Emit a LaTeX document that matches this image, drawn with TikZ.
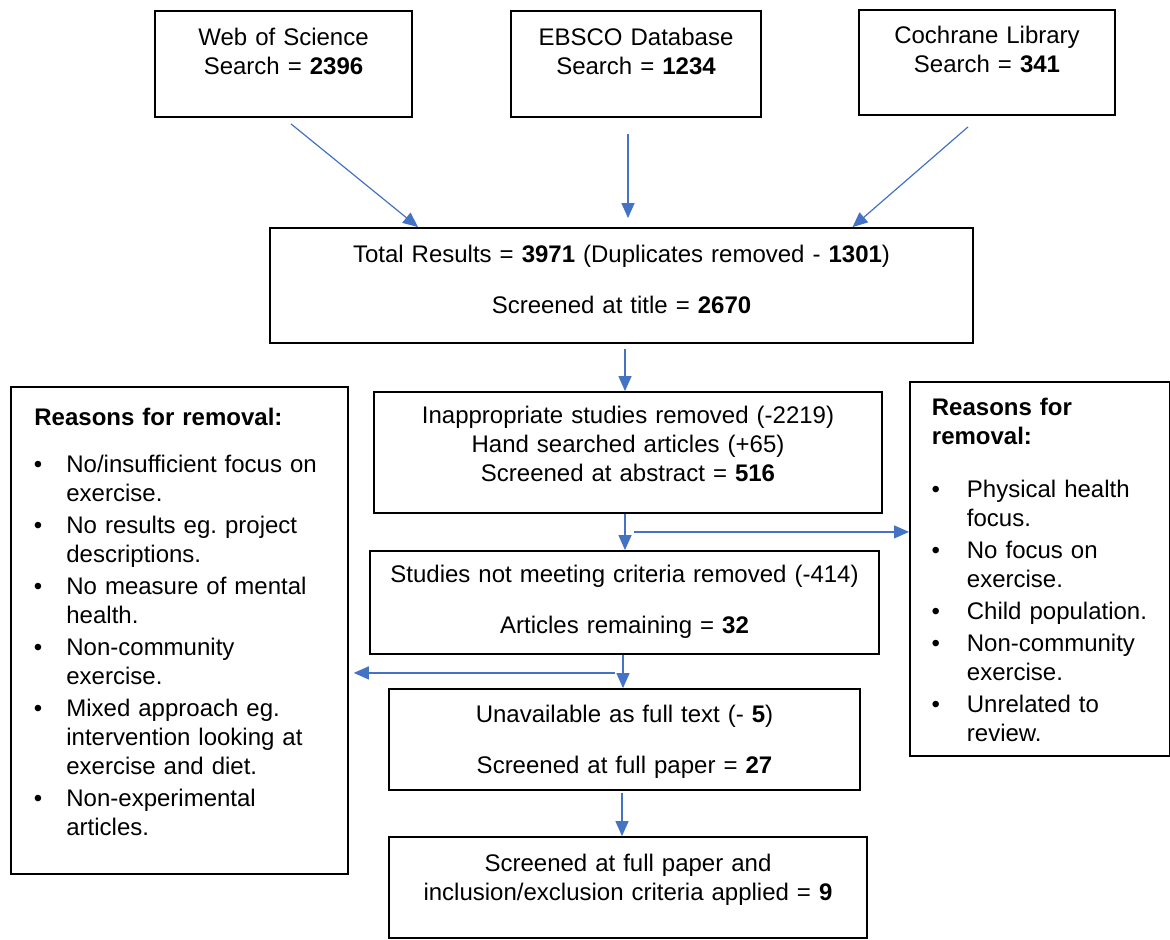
\documentclass[tikz,border=0pt]{standalone}
\usepackage{fontspec}
\setmainfont{Liberation Sans}
\usepackage{enumitem}
\usetikzlibrary{arrows.meta,calc}
\definecolor{arrowblue}{HTML}{4472C4}
\frenchspacing
\tikzset{
  box/.style={draw, line width=0.9pt, inner sep=0pt, align=center,
    font=\fontsize{12}{14.5}\selectfont, execute at begin node={\hyphenpenalty=10000}},
  reasons/.style={box, align=left, anchor=north west},
  flow/.style={draw=arrowblue, line width=0.6pt, -{Triangle[length=7.5pt,width=6.5pt]}}
}

\begin{document}
\begin{tikzpicture}[x=0.5pt,y=-0.5pt]
\useasboundingbox (0,0) rectangle (1170,939);
\node[box, text width=128.5pt, text height=17pt, text depth=36pt] (wos) at (283.5,64) {Web of Science\\Search = \textbf{2396}};
\node[box, text width=125pt, text height=17pt, text depth=36pt] (ebsco) at (636,64) {EBSCO Database\\Search = \textbf{1234}};
\node[box, text width=128pt, text height=16.5pt, text depth=36pt] (cochrane) at (987,62.5) {Cochrane Library\\Search = \textbf{341}};
\node[box, text width=351.5pt, text height=17pt, text depth=40.5pt] (total) at (621.5,285.5) {Total Results = \textbf{3971} (Duplicates removed - \textbf{1301})\\[11pt]Screened at title = \textbf{2670}};
\node[box, text width=254pt, text height=15.5pt, text depth=45pt] (inapp) at (628,452.5) {Inappropriate studies removed (-2219)\\Hand searched articles (+65)\\Screened at abstract = \textbf{516}};
\node[box, text width=254.5pt, text height=15.5pt, text depth=36pt] (studies) at (624.5,602.5) {Studies not meeting criteria removed (-414)\\[11pt]Articles remaining = \textbf{32}};
\node[box, text width=235.5pt, text height=16.5pt, text depth=34pt] (unavail) at (624.5,739.5) {Unavailable as full text (- \textbf{5})\\[11pt]Screened at full paper = \textbf{27}};
\node[box, text width=239pt, text height=17pt, text depth=33.5pt] (final) at (628,887.5) {Screened at full paper and\\inclusion/exclusion criteria applied = \textbf{9}};
\node[reasons, text width=145pt, inner xsep=11.75pt, text height=19.5pt, text depth=224pt] (leftbox) at (10,386) {\textbf{Reasons for removal:}
\begin{itemize}[leftmargin=16pt,labelwidth=4pt,labelsep=12pt,topsep=9pt,itemsep=1.5pt,parsep=0pt,partopsep=0pt]
\item No/insufficient focus on exercise.
\item No results eg. project descriptions.
\item No measure of mental health.
\item Non-community exercise.
\item Mixed approach eg. intervention looking at exercise and diet.
\item Non-experimental articles.
\end{itemize}};
\node[reasons, text width=108pt, inner xsep=11pt, text height=17pt, text depth=170pt] (rightbox) at (909,381) {\textbf{Reasons for removal:}
\begin{itemize}[leftmargin=17.5pt,labelwidth=4pt,labelsep=13.5pt,topsep=12pt,itemsep=1.5pt,parsep=0pt,partopsep=0pt]
\item Physical health focus.
\item No focus on exercise.
\item Child population.
\item Non-community exercise.
\item Unrelated to review.
\end{itemize}};
\draw[flow] ($(wos.south)+(7.5,6)$) -- ($(total.north)+(-203.5,0)$);
\draw[flow] ($(ebsco.south)+(-8,16)$) -- ($(total.north)+(6.5,-9)$);
\draw[flow] ($(cochrane.south)+(-19,11)$) -- ($(total.north)+(231,0)$);
\draw[flow] ($(total.south)+(3.5,5)$) -- ($(inapp.north)+(-3,0)$);
\draw[flow] ($(inapp.south)+(-3,0)$) -- ($(studies.north)+(0.5,0)$);
\draw[flow] ($(inapp.south)+(6,18)$) -- ($(rightbox.west)+(0,-37)$);
\draw[flow] ($(studies.south)+(-1.5,0)$) -- ($(unavail.north)+(-1.5,0)$);
\draw[flow] ($(studies.south)+(-9.5,18)$) -- ($(leftbox.east)+(5,42.5)$);
\draw[flow] ($(unavail.south)+(-2.5,2)$) -- ($(final.north)+(-6,0)$);
\end{tikzpicture}
\end{document}
